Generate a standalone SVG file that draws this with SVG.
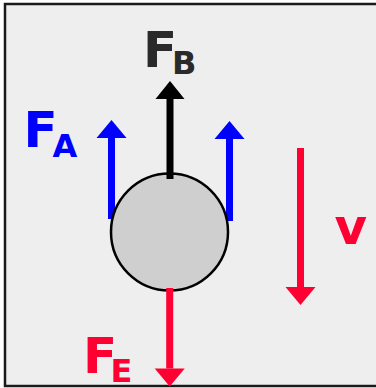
<svg xmlns="http://www.w3.org/2000/svg" width="376" height="388" viewBox="0 0 376 388">
<defs>
<style>
.lbl{font-family:"DejaVu Sans","Liberation Sans",sans-serif;font-weight:bold}
.big{font-size:50px}
.sub{font-size:32px}
.shaft{stroke-width:7;fill:none}
</style>
<marker id="hBlack" markerUnits="userSpaceOnUse" markerWidth="40" markerHeight="40" refX="0" refY="0" viewBox="-2 -20 24 40" orient="auto" overflow="visible"><path d="M0,-14.5 L18,0 L0,14.5 z" fill="#000"/></marker>
<marker id="hBlue" markerUnits="userSpaceOnUse" markerWidth="40" markerHeight="40" refX="0" refY="0" viewBox="-2 -20 24 40" orient="auto" overflow="visible"><path d="M0,-15 L18,0 L0,15 z" fill="#0000ff"/></marker>
<marker id="hRed" markerUnits="userSpaceOnUse" markerWidth="40" markerHeight="40" refX="0" refY="0" viewBox="-2 -20 24 40" orient="auto" overflow="visible"><path d="M0,-15 L18,0 L0,15 z" fill="#ff0033"/></marker>
</defs>
<rect x="5" y="4" width="390" height="382" fill="#eeeeee" stroke="#1a1a1a" stroke-width="2.5"/>
<g id="connectors-under">
<line class="shaft" x1="111.5" y1="219" x2="111.5" y2="138" stroke="#0000ff" marker-end="url(#hBlue)"/>
<line class="shaft" x1="229.5" y1="221" x2="229.5" y2="139" stroke="#0000ff" marker-end="url(#hBlue)"/>
</g>
<g id="body">
<circle cx="169.5" cy="232" r="58.5" fill="#cfcfcf" stroke="#000" stroke-width="2.5"/>
</g>
<g id="connectors">
<line class="shaft" x1="170" y1="179" x2="170" y2="99" stroke="#000" marker-end="url(#hBlack)"/>
<line class="shaft" x1="169.7" y1="288" x2="169.7" y2="368.5" stroke="#ff0033" marker-end="url(#hRed)"/>
<line class="shaft" x1="300.5" y1="148" x2="300.5" y2="287" stroke="#ff0033" marker-end="url(#hRed)"/>
</g>
<g id="label-FB" fill="#2a2a2a">
<text class="lbl big" x="143" y="66.7">F</text>
<text class="lbl sub" x="172" y="74.3">B</text>
</g>
<g id="label-FA" fill="#0000ff">
<text class="lbl big" x="23.5" y="146.7">F</text>
<text class="lbl sub" x="52.5" y="156.7">A</text>
</g>
<g id="label-FE" fill="#ff0033">
<text class="lbl big" x="83" y="372.7">F</text>
<text class="lbl sub" x="110.5" y="382.3">E</text>
</g>
<g id="label-v" fill="#ff0033">
<text class="lbl big" x="334.5" y="244.3">v</text>
</g>
</svg>
